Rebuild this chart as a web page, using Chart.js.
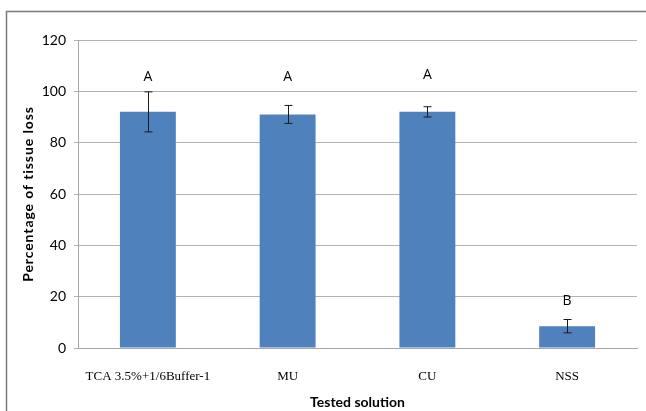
<!DOCTYPE html>
<html>
<head>
<meta charset="utf-8">
<script src="https://cdn.jsdelivr.net/npm/chart.js@4"></script>
<style>
html,body{margin:0;padding:0;background:#fff;}
#wrap{width:646px;height:411px;position:relative;}
</style>
</head>
<body>
<div id="wrap"><canvas id="c" width="646" height="411"></canvas></div>
<script>
const categories = ["TCA 3.5%+1/6Buffer-1", "MU", "CU", "NSS"];
const values = [92, 91, 92, 8.5];
const errors = [7.8, 3.5, 2, 2.6];
const letters = ["A", "A", "A", "B"];
const letterLevels = [105.5, 105.5, 106.5, 18.5];
const yTicks = [0, 20, 40, 60, 80, 100, 120];
const yTitle = "Percentage of tissue loss";
const xTitle = "Tested solution";

const borderPlugin = {
  id: 'outerBorder',
  beforeDraw(chart) {
    const ctx = chart.ctx;
    ctx.save();
    ctx.fillStyle = '#ffffff';
    ctx.fillRect(0, 0, chart.width, chart.height);
    ctx.strokeStyle = '#7a7a7a';
    ctx.lineWidth = 1.5;
    ctx.beginPath();
    ctx.moveTo(6.5, chart.height + 2);
    ctx.lineTo(6.5, 11.5);
    ctx.lineTo(chart.width + 2, 11.5);
    ctx.stroke();
    ctx.restore();
  }
};

const yTitlePlugin = {
  id: 'yTitle',
  afterDraw(chart) {
    const ctx = chart.ctx;
    const a = chart.chartArea;
    ctx.save();
    ctx.translate(28, (a.top + a.bottom) / 2);
    ctx.rotate(-Math.PI / 2);
    ctx.font = 'bold 14px Lato, sans-serif';
    if ('letterSpacing' in ctx) ctx.letterSpacing = '0.9px';
    ctx.fillStyle = '#000';
    ctx.textAlign = 'center';
    ctx.textBaseline = 'middle';
    ctx.fillText(yTitle, 0, 0);
    ctx.restore();
  }
};

const errorPlugin = {
  id: 'errorBars',
  afterDatasetsDraw(chart) {
    const ctx = chart.ctx;
    const meta = chart.getDatasetMeta(0);
    const y = chart.scales.y;
    ctx.save();
    ctx.strokeStyle = '#1a1a1a';
    ctx.lineWidth = 1;
    meta.data.forEach((bar, i) => {
      const x = Math.round(bar.x) + 0.5;
      const top = y.getPixelForValue(values[i] + errors[i]);
      const bot = y.getPixelForValue(values[i] - errors[i]);
      ctx.beginPath();
      ctx.moveTo(x, top); ctx.lineTo(x, bot);
      ctx.moveTo(x - 4, top); ctx.lineTo(x + 4, top);
      ctx.moveTo(x - 4, bot); ctx.lineTo(x + 4, bot);
      ctx.stroke();
    });
    ctx.fillStyle = '#000';
    ctx.font = '14px "Open Sans", sans-serif';
    ctx.textAlign = 'center';
    ctx.textBaseline = 'middle';
    meta.data.forEach((bar, i) => {
      ctx.fillText(letters[i], bar.x, y.getPixelForValue(letterLevels[i]));
    });
    ctx.restore();
  }
};

new Chart(document.getElementById('c'), {
  type: 'bar',
  data: {
    labels: categories,
    datasets: [{
      data: values,
      backgroundColor: '#4F81BD',
      borderWidth: 0,
      barPercentage: 0.4,
      categoryPercentage: 1.0
    }]
  },
  options: {
    responsive: false,
    animation: false,
    devicePixelRatio: 1,
    layout: { padding: { top: 40, right: 9, left: 20, bottom: 0 } },
    plugins: { legend: { display: false }, tooltip: { enabled: false } },
    scales: {
      x: {
        grid: { display: false, drawTicks: false },
        border: { color: '#a6a6a6', width: 1 },
        ticks: { color: '#000', font: { family: '"Liberation Serif", serif', size: 13 }, padding: 21, maxRotation: 0 },
        title: { display: true, text: xTitle, color: '#000', font: { family: 'Lato, sans-serif', size: 14, weight: 'bold' }, padding: { top: 3, bottom: 0 } },
        afterFit(scale) { scale.height = 411 - 348; }
      },
      y: {
        min: 0, max: 120,
        afterBuildTicks(scale) { scale.ticks = yTicks.map(v => ({ value: v })); },
        grid: { color: '#b3b3b3', lineWidth: 1, tickLength: 4, drawTicks: true },
        border: { color: '#a6a6a6', width: 1 },
        ticks: { color: '#000', font: { family: 'Lato, sans-serif', size: 14 }, padding: 8 },
        title: { display: false, text: yTitle },
        afterFit(scale) { scale.width = 58; }
      }
    }
  },
  plugins: [borderPlugin, errorPlugin, yTitlePlugin]
});
</script>
</body>
</html>
